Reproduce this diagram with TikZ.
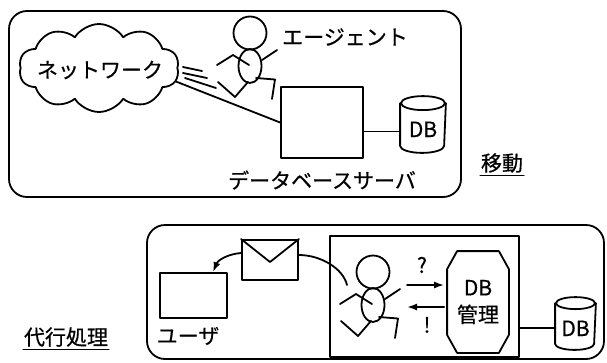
\documentclass[tikz,border=0pt]{standalone}
\usepackage{fontspec}
\setmainfont{Noto Sans CJK JP}[FakeBold=0.6]
\usetikzlibrary{shapes.symbols,arrows.meta,calc}

% stick figure of the running agent, origin at the centre of the head
\tikzset{
  agent/.pic={
    \draw (0,0) circle[radius=16.5pt];
    \draw (0,33) ellipse[x radius=11.5pt,y radius=17pt];
    \draw (-33,32) -- (-17,22) -- (-1,32);
    \draw (12,27) -- (27,17);
    \draw (-2,49) -- (-15,64) -- (-32,49);
    \draw (6,45) -- (25,46.5) -- (22,66);
  },
}

% database drum drawn round a node that holds its label
\newcommand\dbdrum[3]{%
  \draw (#1.north west) -- (#1.south west)
    arc[start angle=180,end angle=360,x radius=#2,y radius=#3] -- (#1.north east);
  \draw (#1.north) ellipse[x radius=#2,y radius=#3];}

\begin{document}
\begin{tikzpicture}[x=1pt,y=-1pt,line width=1.8pt,line join=round,line cap=round,
  every node/.style={font=\fontsize{21}{27}\selectfont,inner sep=0pt},
  panel/.style={draw,rounded corners=18pt},
  plainbox/.style={draw,rectangle},
  dbbody/.style={text height=25pt,text depth=0pt},
  tip/.style={-{Latex[length=10pt,width=7pt]}},
  uline/.style={line width=1.4pt}]
\useasboundingbox (0,0) rectangle (607,362);

% ---------- migration ----------
\draw[panel] (9,11) rectangle (461,197);

\node[draw,cloud,cloud puffs=10,cloud puff arc=115,aspect=1.8,
      minimum width=160pt,minimum height=88pt] (net) at (99,68) {};
\node (netlbl) at (100,70) {ネットワーク};

% speed strokes behind the agent
\draw (183,67) -- (202,71);
\draw (183,73) -- (207,78);
\draw (185,78) -- (216,88);

\pic at (250,33) {agent};
\node (agentlbl) at (345,37) {エージェント};

\node[plainbox,minimum width=82pt,minimum height=71pt] (server) at (322,122.5) {};
\node (serverlbl) at (322,180) {データベースサーバ};

\node[dbbody,minimum width=44pt,minimum height=41pt] (db1) at (423,124.5) {DB};
\dbdrum{db1}{22pt}{7pt}

\draw (net.-10) -- (server.west);
\path (db1.west) ++(0,7) coordinate (db1in);
\draw (db1in) -- (db1in -| server.east);

\node (move) at (502,163) {移動};
\draw[uline] ($(move.south west)+(0,2)$) -- ($(move.south east)+(0,2)$);

% ---------- proxy processing ----------
\draw[panel] (147,225) rectangle (604,359);

\node (proxy) at (66,337) {代行処理};
\draw[uline] ($(proxy.south west)+(0,2)$) -- ($(proxy.south east)+(0,2)$);

\node[plainbox,minimum width=67pt,minimum height=45pt] (user) at (193.5,295.5) {};
\node (userlbl) at (188,336) {ユーザ};

\node[plainbox,minimum width=56pt,minimum height=40pt] (mail) at (270,260) {};
\draw (mail.north west) -- ($(mail.center)+(0,2)$) -- (mail.north east);

\node[plainbox,minimum width=189pt,minimum height=121pt] (host) at (424.5,296.5) {};
\pic at (373,272) {agent};
\coordinate (agentarm) at (347,285);

\node[minimum width=60pt,minimum height=100pt,align=center] (dbm) at (478,302) {DB\\管理};
\draw ($(dbm.north west)+(10,0)$) -- ($(dbm.north east)+(-10,0)$)
  -- ($(dbm.north east)+(0,18)$) -- ($(dbm.south east)+(0,-18)$)
  -- ($(dbm.south east)+(-10,0)$) -- ($(dbm.south west)+(10,0)$)
  -- ($(dbm.south west)+(0,-18)$) -- ($(dbm.north west)+(0,18)$) -- cycle;

\coordinate (ask) at (407,285);
\draw[tip,shorten >=3pt] (ask) -- (ask -| dbm.west);
\coordinate (reply) at (407,307);
\draw[tip,shorten <=3pt] (reply -| dbm.west) -- (reply);
\node (qmark) at (422,265) {?};
\node (emark) at (427,325) {!};

\node[dbbody,minimum width=39pt,minimum height=39pt] (db2) at (575.5,323.5) {DB};
\dbdrum{db2}{19.5pt}{6pt}
\path (db2.west) ++(0,4.5) coordinate (db2in);
\draw (db2in) -- (db2in -| host.east);

\draw[tip] ($(mail.west)+(0,-7)$) .. controls (228,254) and (218,260) .. ($(user.north)+(19.5,0)$);
\draw ($(mail.east)+(0,-5)$) .. controls (320,255) and (343,268) .. (agentarm);
\end{tikzpicture}
\end{document}
